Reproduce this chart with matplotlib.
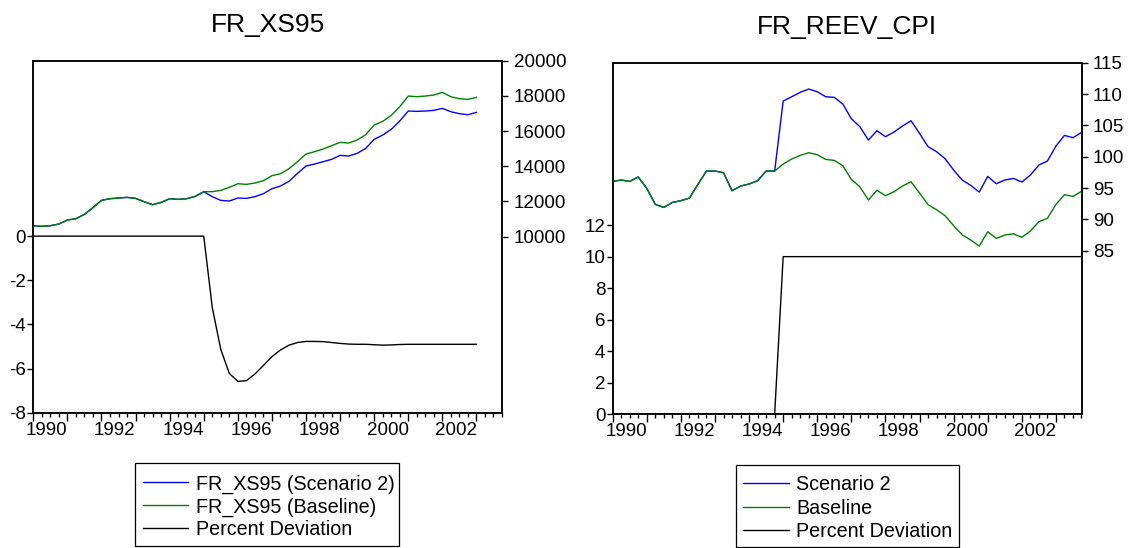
import numpy as np
import pandas as pd
import matplotlib
matplotlib.use("Agg")
import matplotlib.pyplot as plt
import matplotlib.transforms as mtransforms
from matplotlib.lines import Line2D
from matplotlib.patches import Rectangle

plt.rcParams['font.family'] = ['Liberation Sans', 'DejaVu Sans']

W, H, DPI = 1134, 548, 100


def to_decimal_year(periods):
    return np.array([p.year + (p.quarter - 1) / 4 for p in periods])


# ---------------- FR_XS95 (1990Q1 - 2003Q1) ----------------
xs_dates = to_decimal_year(pd.period_range("1990Q1", "2003Q1", freq="Q"))

xs_baseline = [
    10625, 10587, 10625, 10720, 10947, 11023, 11269, 11648,
    12064, 12159, 12197, 12235, 12178, 11989, 11818, 11950,
    12159, 12121, 12159, 12292, 12557, 12557, 12633, 12803,
    13011, 12973, 13049, 13182, 13466, 13580, 13864, 14261,
    14697, 14830, 14981, 15170, 15360, 15322, 15492, 15795,
    16345, 16553, 16894, 17386, 17992, 17955, 17992, 18049,
    18201, 17955, 17841, 17803, 17917,
]
xs_scenario2 = [
    10625, 10587, 10625, 10720, 10947, 11023, 11269, 11648,
    12064, 12159, 12197, 12235, 12178, 11989, 11818, 11950,
    12159, 12121, 12159, 12292, 12557, 12273, 12064, 12027,
    12197, 12178, 12273, 12443, 12727, 12879, 13144, 13598,
    14015, 14129, 14261, 14394, 14621, 14583, 14735, 15019,
    15530, 15776, 16098, 16572, 17140, 17121, 17140, 17178,
    17292, 17102, 16989, 16932, 17064,
]
xs_deviation = [
    0, 0, 0, 0, 0, 0, 0, 0, 0, 0, 0, 0, 0, 0, 0, 0, 0, 0, 0, 0, 0,
    -3.23, -5.13, -6.22, -6.58, -6.55, -6.25, -5.86, -5.46, -5.16,
    -4.94, -4.82, -4.77, -4.77, -4.78, -4.82, -4.86, -4.89, -4.90,
    -4.90, -4.92, -4.94, -4.93, -4.91, -4.90, -4.90, -4.90, -4.90,
    -4.90, -4.90, -4.90, -4.90, -4.90,
]

# ---------------- FR_REEV_CPI (1990Q1 - 2003Q4) ----------------
cpi_dates = to_decimal_year(pd.period_range("1990Q1", "2003Q4", freq="Q"))

cpi_baseline = [
    96.06, 96.28, 96.06, 96.76, 94.95, 92.39, 91.91, 92.71,
    92.98, 93.40, 95.59, 97.71, 97.71, 97.45, 94.57, 95.32,
    95.64, 96.17, 97.71, 97.71, 98.83, 99.63, 100.21, 100.64,
    100.32, 99.57, 99.41, 98.56, 96.38, 95.21, 93.09, 94.63,
    93.78, 94.41, 95.32, 96.01, 94.20, 92.34, 91.54, 90.59,
    88.99, 87.55, 86.70, 85.74, 88.03, 86.97, 87.50, 87.71,
    87.13, 88.14, 89.63, 90.16, 92.39, 93.94, 93.67, 94.47,
]
cpi_scenario2 = [
    96.06, 96.28, 96.06, 96.76, 94.95, 92.39, 91.91, 92.71,
    92.98, 93.40, 95.59, 97.71, 97.71, 97.45, 94.57, 95.32,
    95.64, 96.17, 97.71, 97.71, 108.88, 109.57, 110.27, 110.80,
    110.37, 109.57, 109.47, 108.40, 106.06, 104.79, 102.66, 104.15,
    103.19, 103.94, 104.89, 105.74, 103.72, 101.60, 100.80, 99.68,
    97.87, 96.28, 95.43, 94.36, 96.86, 95.69, 96.28, 96.54,
    95.96, 97.07, 98.67, 99.31, 101.70, 103.40, 103.03, 103.88,
]
cpi_deviation = [0] * 20 + [10] * 36

# axis ticks
year_ticks = list(range(1990, 2004))
year_labels = [str(y) if y % 2 == 0 else "" for y in year_ticks]
xs_left_ticks = [-8, -6, -4, -2, 0]
xs_right_ticks = [10000, 12000, 14000, 16000, 18000, 20000]
cpi_left_ticks = [0, 2, 4, 6, 8, 10, 12]
cpi_right_ticks = [85, 90, 95, 100, 105, 110, 115]

BLUE = "#0000ff"
GREEN = "#008000"
BLACK = "#000000"
LW = 1.0
TICK_FS = 13.5
TITLE_FS = 19
LEGEND_FS = 14.2


def px_box(l, t, r, b):
    return [l / W, 1 - b / H, (r - l) / W, (b - t) / H]


fig = plt.figure(figsize=(W / DPI, H / DPI), dpi=DPI)


def make_panel(box, title, dates, scen, base, dev, ylim_l, ylim_r,
               lticks, rticks):
    ax = fig.add_axes(box)
    ax2 = ax.twinx()
    ax.plot(dates, dev, color=BLACK, lw=LW)
    ax2.plot(dates, scen, color=BLUE, lw=LW)
    ax2.plot(dates, base, color=GREEN, lw=LW)

    ax.set_xlim(1990, 2003.75)
    ax.set_ylim(*ylim_l)
    ax2.set_ylim(*ylim_r)
    ax.set_yticks(lticks)
    ax.set_yticklabels([str(v) for v in lticks])
    ax2.set_yticks(rticks)
    ax2.set_yticklabels([str(v) for v in rticks])

    ax.set_xticks(year_ticks)
    ax.set_xticklabels(year_labels)
    ax.set_xticks(np.arange(1990, 2003.76, 0.25), minor=True)

    ax.tick_params(axis="x", which="major", direction="out", length=5.5,
                   width=1.0, pad=1, labelsize=TICK_FS)
    ax.tick_params(axis="x", which="minor", direction="out", length=2.9,
                   width=1.0)
    ax.tick_params(axis="y", direction="out", length=4.3, width=1.0,
                   pad=1, labelsize=TICK_FS)
    ax2.tick_params(axis="y", direction="out", length=4.3, width=1.0,
                    pad=4, labelsize=TICK_FS)

    # year labels sit to the right of their year tick
    offset = mtransforms.ScaledTranslation(13.4 / DPI, 0, fig.dpi_scale_trans)
    for lab in ax.xaxis.get_majorticklabels():
        lab.set_transform(lab.get_transform() + offset)

    for a in (ax, ax2):
        for s in a.spines.values():
            s.set_linewidth(1.1)
            s.set_color(BLACK)

    ax.set_title(title, fontsize=TITLE_FS, pad=21)
    return ax, ax2


def draw_legend(box, h0, h1, tx, rows, labels, colors):
    l, t, r, b = box
    fig.add_artist(Rectangle((l / W, 1 - b / H), (r - l) / W, (b - t) / H,
                             transform=fig.transFigure, fill=False,
                             edgecolor=BLACK, lw=0.9))
    for y, lab, c in zip(rows, labels, colors):
        fy = 1 - y / H
        fig.add_artist(Line2D([h0 / W, h1 / W], [fy, fy],
                              transform=fig.transFigure, color=c, lw=LW))
        fig.text(tx / W, 1 - (y + 7) / H, lab, fontsize=LEGEND_FS,
                 ha="left", va="baseline")


make_panel(px_box(33.3, 60.7, 502, 412.7), "FR_XS95", xs_dates,
           xs_scenario2, xs_baseline, xs_deviation,
           (-8, 7.95), (0, 20000), xs_left_ticks, xs_right_ticks)
make_panel(px_box(612.7, 62.7, 1081.5, 414.3), "FR_REEV_CPI", cpi_dates,
           cpi_scenario2, cpi_baseline, cpi_deviation,
           (0, 22.3), (58.9, 115), cpi_left_ticks, cpi_right_ticks)

draw_legend((135, 462.7, 399.3, 546), 142.7, 188.3, 195.5,
            [482.3, 505.3, 528.3],
            ["FR_XS95 (Scenario 2)", "FR_XS95 (Baseline)", "Percent Deviation"],
            [BLUE, GREEN, BLACK])
draw_legend((735.7, 465, 959, 547.3), 742.7, 789.3, 796.3,
            [483.3, 506.7, 530.0],
            ["Scenario 2", "Baseline", "Percent Deviation"],
            [BLUE, GREEN, BLACK])

fig.savefig("out.png", dpi=DPI)
